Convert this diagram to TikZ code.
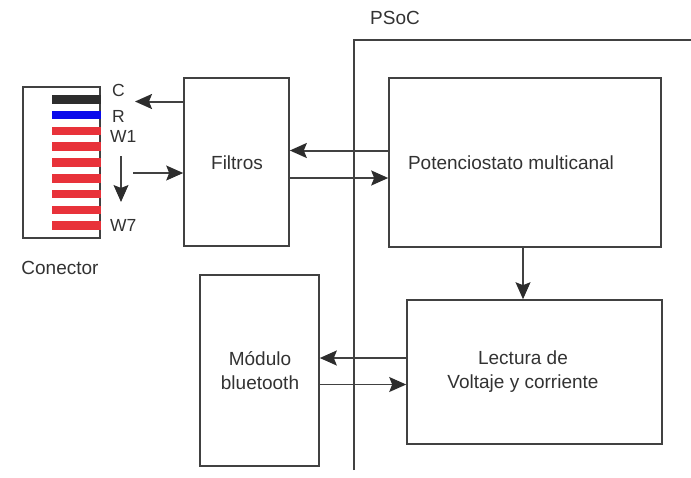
\documentclass[tikz,border=0pt]{standalone}
\usepackage{fontspec}
\setmainfont{Liberation Sans}
\usepackage{tikz}
\usetikzlibrary{arrows.meta}

\definecolor{linegray}{RGB}{65,65,65}
\definecolor{tipgray}{RGB}{45,45,45}
\definecolor{txtgray}{RGB}{50,50,50}
\definecolor{barblack}{RGB}{45,45,45}
\definecolor{barblue}{RGB}{10,10,235}
\definecolor{barred}{RGB}{232,50,58}

\begin{document}
\begin{tikzpicture}[x=1pt, y=-1pt,
    box/.style={draw=linegray, line width=1.6pt, rectangle, inner sep=0pt},
    lbl/.style={text=txtgray, font=\fontsize{19}{24}\selectfont, align=center, inner sep=0pt},
    pin/.style={text=txtgray, font=\fontsize{17.5}{20}\selectfont, anchor=west, inner sep=0pt},
    arr/.style={draw=linegray, line width=2pt, -{Stealth[length=17pt, width=15pt, inset=3pt, color=tipgray]}},
    thinarr/.style={draw=linegray, line width=1.1pt, -{Stealth[length=17pt, width=15pt, inset=3pt, color=tipgray]}}]
  \useasboundingbox (0,0) rectangle (691,477);
  \pgfmathsetmacro{\BarStep}{15.8}
  \pgfmathsetmacro{\BarH}{8.5}

  % PSoC border
  \draw[linegray, line width=1.6pt] (354,470) -- (354,40) -- (691,40);
  \node[lbl] (psoc) at (395,18) {PSoC};

  % conector
  \node[box, minimum width=77pt, minimum height=151pt] (conector) at (61.5,162.5) {};
  \foreach \k/\col in {0/barblack, 1/barblue, 2/barred, 3/barred, 4/barred, 5/barred, 6/barred, 7/barred, 8/barred}{
    \fill[\col] (52, 99.3+\k*\BarStep-\BarH/2) rectangle (101, 99.3+\k*\BarStep+\BarH/2);
  }
  \node[pin] (pinC) at (112,90) {C};
  \node[pin] (pinR) at (112,116) {R};
  \node[pin] (pinW1) at (110,136.5) {W1};
  \node[pin] (pinW7) at (110,225) {W7};
  \node[lbl] (conlbl) at (60,268) {Conector};

  % blocks
  \node[box, minimum width=105pt, minimum height=168pt] (filtros) at (236.5,162) {};
  \node[lbl] (filtroslbl) at (237,163) {Filtros};
  \node[box, minimum width=272pt, minimum height=169pt] (potenc) at (525,162.5) {};
  \node[lbl] (potenclbl) at (511,163) {Potenciostato multicanal};
  \node[box, minimum width=255pt, minimum height=144pt] (lectura) at (534.5,372) {};
  \node[lbl] (lecturalbl) at (523,372) {Lectura de\\Voltaje y corriente};
  \node[box, minimum width=119pt, minimum height=191pt] (modulo) at (259.5,370.5) {};
  \node[lbl] (modulolbl) at (260,371) {Módulo\\bluetooth};

  \coordinate (cIn) at (135,101.5);
  \coordinate (wOut) at (133,173);
  \coordinate (wTop) at (121,156);
  \coordinate (wBot) at (121,202);

  % connectors
  \draw[arr] (filtros.west |- cIn) -- (cIn);
  \draw[thinarr] (wOut) -- (wOut -| filtros.west);
  \draw[thinarr] (wTop) -- (wBot);
  \draw[arr] ([yshift=12pt]potenc.west) -- ([yshift=12pt]potenc.west -| filtros.east);
  \draw[arr] ([yshift=-16pt]filtros.east) -- ([yshift=-16pt]filtros.east -| potenc.west);
  \draw[thinarr] ([xshift=-2pt]potenc.south) -- ([xshift=-2pt]potenc.south |- lectura.north);
  \draw[arr] ([yshift=14pt]lectura.west) -- ([yshift=14pt]lectura.west -| modulo.east);
  \draw[thinarr] ([yshift=-14pt]modulo.east) -- ([yshift=-14pt]modulo.east -| lectura.west);
\end{tikzpicture}
\end{document}
